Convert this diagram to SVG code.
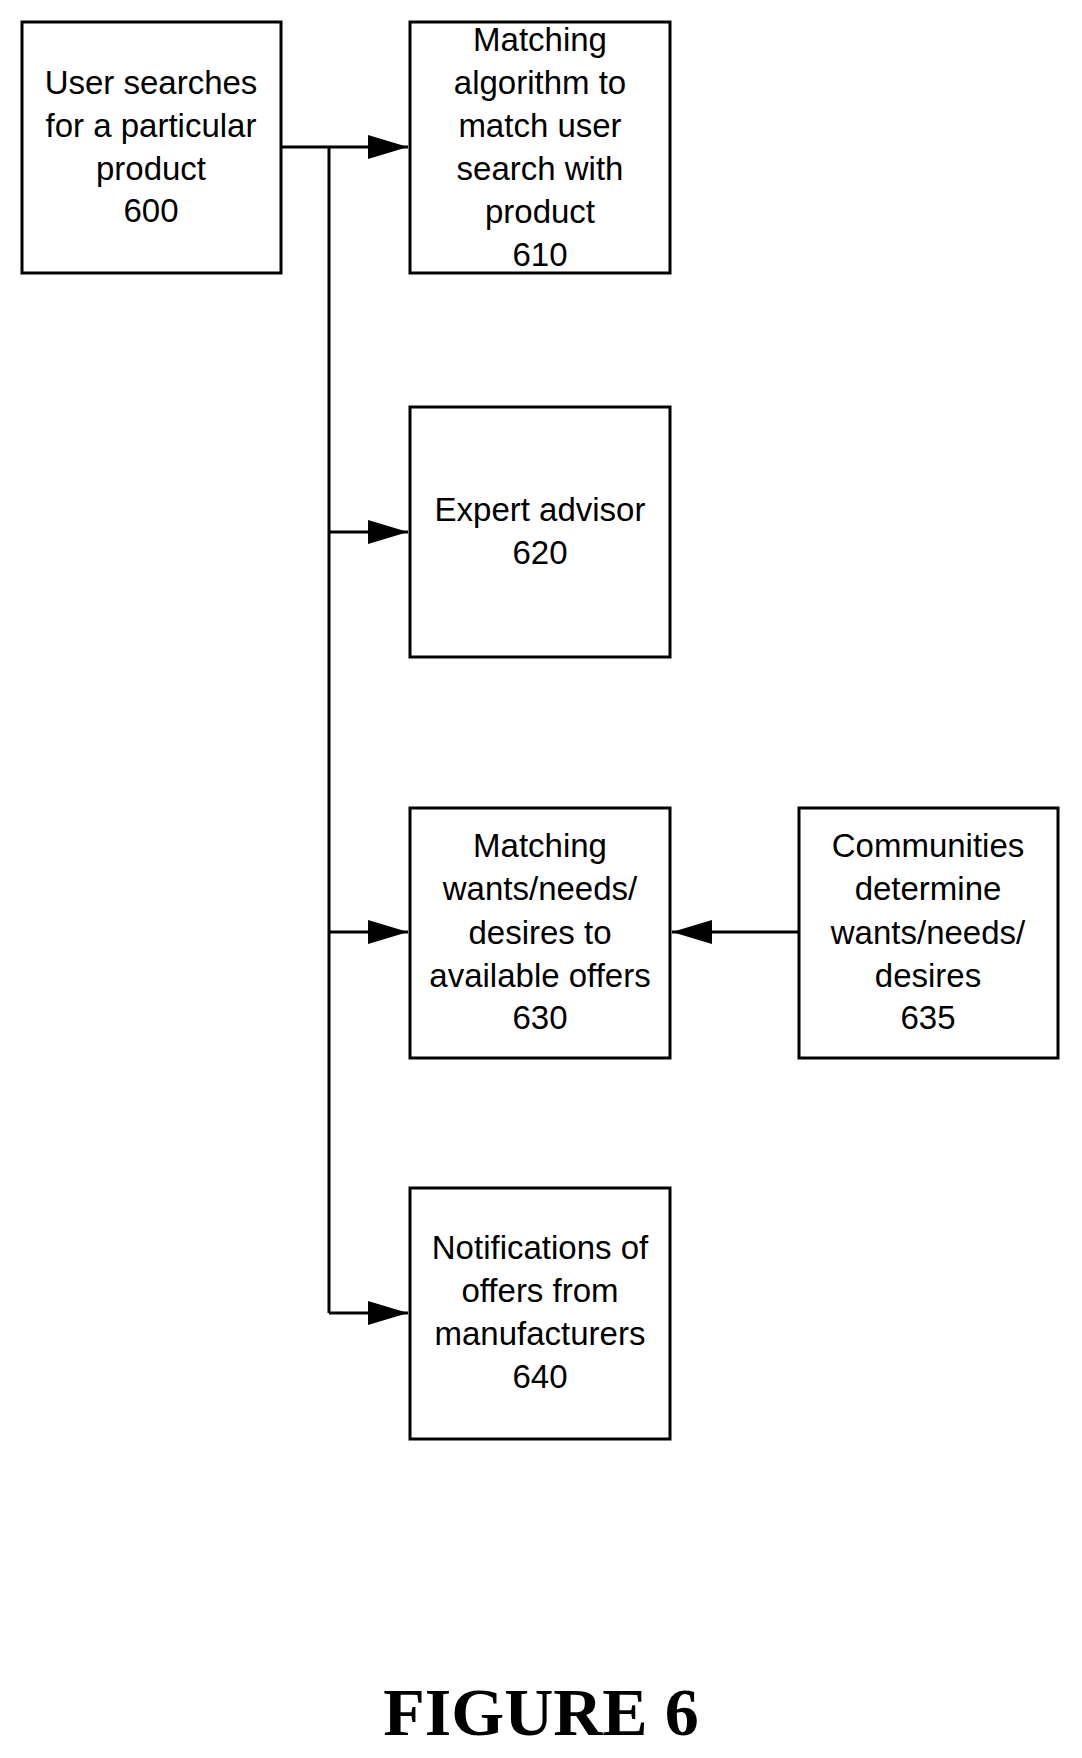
<svg xmlns="http://www.w3.org/2000/svg" width="1082" height="1758" viewBox="0 0 1082 1758">
<style>
rect{fill:#fff;stroke:#000;stroke-width:3}
text{font-family:"Liberation Sans",Arial,sans-serif;font-size:33px;text-anchor:middle;fill:#000}
.c{stroke:#000;stroke-width:3;fill:none}
</style>
<defs><marker id="a" markerWidth="12" markerHeight="10" refX="12" refY="5" orient="auto" markerUnits="userSpaceOnUse" viewBox="0 0 12 10"><path d="M0,0L12,5L0,10z"/></marker>
<marker id="b" viewBox="0 0 40 24" refX="40" refY="12" markerWidth="40" markerHeight="24" orient="auto" markerUnits="userSpaceOnUse"><path d="M0,0L40,12L0,24z"/></marker></defs>
<rect width="1082" height="1758" style="stroke:none"/>
<g id="n600"><rect x="22" y="22" width="259" height="251"/><text x="151" y="94">User searches</text><text x="151" y="137">for a particular</text><text x="151" y="180">product</text><text x="151" y="222">600</text></g>
<g id="n610"><rect x="410" y="22" width="260" height="251"/><text x="540" y="51">Matching</text><text x="540" y="94">algorithm to</text><text x="540" y="137">match user</text><text x="540" y="180">search with</text><text x="540" y="223">product</text><text x="540" y="266">610</text></g>
<g id="n620"><rect x="410" y="407" width="260" height="250"/><text x="540" y="521">Expert advisor</text><text x="540" y="564">620</text></g>
<g id="n630"><rect x="410" y="808" width="260" height="250"/><text x="540" y="857">Matching</text><text x="540" y="900">wants/needs/</text><text x="540" y="944">desires to</text><text x="540" y="987">available offers</text><text x="540" y="1029">630</text></g>
<g id="n635"><rect x="799" y="808" width="259" height="250"/><text x="928" y="857">Communities</text><text x="928" y="900">determine</text><text x="928" y="944">wants/needs/</text><text x="928" y="987">desires</text><text x="928" y="1029">635</text></g>
<g id="n640"><rect x="410" y="1188" width="260" height="251"/><text x="540" y="1259">Notifications of</text><text x="540" y="1302">offers from</text><text x="540" y="1345">manufacturers</text><text x="540" y="1388">640</text></g>
<g id="connectors">
<path class="c" d="M281,147H408" marker-end="url(#b)"/>
<path class="c" d="M329,147V1313"/>
<path class="c" d="M329,532H408" marker-end="url(#b)"/>
<path class="c" d="M329,932H408" marker-end="url(#b)"/>
<path class="c" d="M329,1313H408" marker-end="url(#b)"/>
<path class="c" d="M799,932H672" marker-end="url(#b)"/>
</g>
<text x="541" y="1735" style="font-family:'Liberation Serif','Times New Roman',serif;font-weight:bold;font-size:68px">FIGURE 6</text>
</svg>
